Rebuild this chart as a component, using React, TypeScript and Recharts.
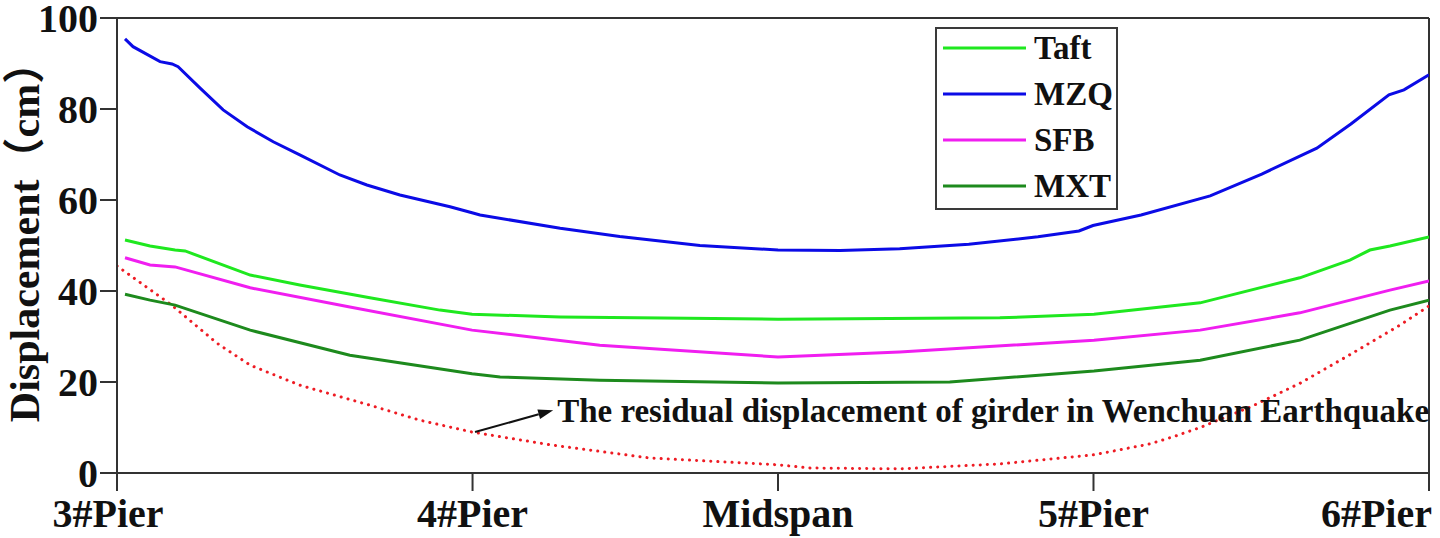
import React from 'react';
import { LineChart, Line, XAxis, YAxis, Legend, ReferenceLine } from 'recharts';

const FONT = '"Liberation Serif", "Times New Roman", "Noto Sans CJK SC", serif';
const CJK = '"Noto Sans CJK SC", sans-serif';

const tickPositions = [0, 71, 132, 195, 262];
const tickLabels = ['3#Pier', '4#Pier', 'Midspan', '5#Pier', '6#Pier'];
const yTicks = [0, 20, 40, 60, 80, 100];

const taft: [number, number][] = [
  [1.6, 51.2], [6.6, 49.9], [11.6, 49.0], [13.6, 48.8], [26.6, 43.5], [36.5, 41.3],
  [50.5, 38.5], [64.5, 35.8], [70.9, 34.9], [88.5, 34.3], [132, 33.8], [176.3, 34.1],
  [195.1, 34.9], [216.3, 37.4], [236.2, 42.9], [246.2, 46.8], [250.2, 49.0], [254.2, 49.9], [262, 51.9],
];
const mzq: [number, number][] = [
  [1.6, 95.4], [3.2, 93.7], [8.6, 90.4], [11.0, 89.9], [12.2, 89.3], [16.6, 84.6], [21.2, 79.8],
  [26.0, 76.1], [31.2, 72.8], [36.5, 69.9], [44.5, 65.5], [49.9, 63.3], [56.5, 61.1], [66.5, 58.5],
  [70.9, 57.2], [72.5, 56.7], [88.5, 53.8], [100.4, 52.0], [116.4, 50.0], [132, 49.0], [144.4, 48.9],
  [156.3, 49.3], [170.1, 50.3], [183.9, 51.9], [192.1, 53.2], [194.9, 54.4], [204.5, 56.7],
  [218.3, 60.9], [228.6, 65.7], [239.6, 71.4], [246.4, 76.7], [254.0, 83.1], [257.0, 84.2], [262, 87.5],
];
const sfb: [number, number][] = [
  [1.6, 47.3], [6.6, 45.7], [11.6, 45.3], [26.6, 40.7], [46.5, 36.5], [70.9, 31.4], [96.4, 28.1],
  [132, 25.5], [156.3, 26.6], [195.1, 29.2], [216.3, 31.4], [236.2, 35.2], [254.2, 40.2], [262, 42.2],
];
const mxt: [number, number][] = [
  [1.6, 39.3], [6.6, 38.0], [11.6, 36.9], [26.6, 31.4], [46.5, 25.9], [70.9, 21.8], [76.5, 21.1],
  [96.4, 20.4], [132, 19.8], [166.3, 20.0], [195.1, 22.4], [216.3, 24.8], [236.2, 29.2], [254.2, 35.8], [262, 38.0],
];
const residual: [number, number][] = [
  [0, 45.5], [10.8, 37.0], [20, 28.5], [26.6, 23.7], [36.5, 19.3], [50.5, 14.9], [60.5, 11.6],
  [70.9, 9.0], [86.5, 6.2], [106.4, 3.3], [132, 1.8], [138.4, 1.1], [156.3, 0.9], [176.3, 2.0],
  [195.1, 4.0], [206.3, 6.4], [211.3, 8.1], [216.3, 10.0], [226.3, 14.5], [236.2, 19.7], [246.2, 26.0], [256.2, 32.5], [262, 36.7],
];

const annotationStart = { x: 71.5, y: 9.0 };
const annotationEnd = { x: 87.1, y: 13.8 };
const annotationText = 'The residual displacement of girder in Wenchuan Earthquake';

const toData = (arr: [number, number][]) => arr.map(([x, y]) => ({ x, y }));

const seriesList = [
  { name: 'Taft', color: '#1fe81f', data: taft },
  { name: 'MZQ', color: '#0b0be6', data: mzq },
  { name: 'SFB', color: '#f01ef0', data: sfb },
  { name: 'MXT', color: '#1d8a1d', data: mxt },
];

const XTick = (props: any) => {
  const { x, y, payload } = props;
  const i = tickPositions.indexOf(payload.value);
  let dx = 0;
  let anchor: 'middle' | 'end' = 'middle';
  if (i === 0) dx = -9;
  if (i === tickPositions.length - 1) { dx = 3; anchor = 'end'; }
  return (
    <text x={x + dx} y={y} dy={34} textAnchor={anchor} fontFamily={FONT} fontWeight="bold" fontSize={40} fill="#111">
      {tickLabels[i]}
    </text>
  );
};

const ArrowShape = (p: any) => {
  const { x1, y1, x2, y2 } = p;
  if ([x1, y1, x2, y2].some((v) => typeof v !== 'number')) return null;
  const ang = Math.atan2(y2 - y1, x2 - x1);
  const L = 15, W = 5;
  const bx = x2 - L * Math.cos(ang), by = y2 - L * Math.sin(ang);
  const px = -Math.sin(ang) * W, py = Math.cos(ang) * W;
  return (
    <g>
      <line x1={x1} y1={y1} x2={bx} y2={by} stroke="#111" strokeWidth={2} />
      <polygon points={`${x2},${y2} ${bx + px},${by + py} ${bx - px},${by - py}`} fill="#111" />
      <text x={x2 + 4} y={y2} dy="0.36em" fontFamily={FONT} fontWeight="bold" fontSize={33} fill="#111">
        {annotationText}
      </text>
    </g>
  );
};

const LegendBox = () => (
  <div style={{ border: '2px solid #3a3a3a', width: 183, height: 183, boxSizing: 'border-box', background: '#fff', fontFamily: FONT, fontWeight: 'bold', fontSize: 33, color: '#111' }}>
    <div style={{ position: 'relative', top: -4 }}>
      {seriesList.map((s) => (
        <div key={s.name} style={{ display: 'flex', alignItems: 'center', height: 46 }}>
          <svg width={83} height={6} style={{ marginLeft: 6, display: 'block' }}>
            <line x1={0} y1={3} x2={83} y2={3} stroke={s.color} strokeWidth={3} />
          </svg>
          <span style={{ marginLeft: 8, lineHeight: '46px' }}>{s.name}</span>
        </div>
      ))}
    </div>
  </div>
);

const YLabel = (props: any) => {
  const vb = props.viewBox || { x: 0, y: 18, width: 117, height: 455 };
  const cx = vb.x + 39;
  const cy = 232;
  return (
    <text x={cx} y={cy} transform={`rotate(-90, ${cx}, ${cy})`} textAnchor="middle" fontFamily={FONT} fontWeight="bold" fontSize={42} fill="#111">
      Displacement<tspan fontFamily={CJK}>（</tspan>cm<tspan fontFamily={CJK}>）</tspan>
    </text>
  );
};

export default function App() {
  return (
    <div style={{ position: 'absolute', left: 0, top: 0, width: 1440, height: 538, background: '#fff' }}>
      <LineChart width={1440} height={538} margin={{ top: 18, right: 11, left: 0, bottom: 0 }}>
        <XAxis
          type="number"
          dataKey="x"
          domain={[0, 262]}
          ticks={tickPositions}
          interval={0}
          height={65}
          tickSize={18}
          axisLine={{ stroke: '#333', strokeWidth: 2 }}
          tickLine={{ stroke: '#333', strokeWidth: 2 }}
          tick={<XTick />}
          allowDataOverflow
        />
        <YAxis
          type="number"
          domain={[0, 100]}
          ticks={yTicks}
          interval={0}
          width={117}
          tickSize={17}
          axisLine={{ stroke: '#333', strokeWidth: 2 }}
          tickLine={{ stroke: '#333', strokeWidth: 2 }}
          tick={{ fontFamily: FONT, fontWeight: 'bold', fontSize: 40, fill: '#111' }}
          label={{ content: <YLabel /> }}
        />
        <ReferenceLine y={100} stroke="#333" strokeWidth={2} />
        <ReferenceLine x={262} stroke="#333" strokeWidth={2} />
        <Line data={toData(residual)} dataKey="y" type="linear" stroke="#ee1c24" strokeWidth={3} strokeDasharray="0.1 7" strokeLinecap="round" dot={false} isAnimationActive={false} legendType="none" />
        {seriesList.map((s) => (
          <Line key={s.name} name={s.name} data={toData(s.data)} dataKey="y" type="linear" stroke={s.color} strokeWidth={3} dot={false} isAnimationActive={false} />
        ))}
        <ReferenceLine segment={[annotationStart, annotationEnd]} shape={ArrowShape} ifOverflow="visible" />
        <Legend layout="vertical" align="center" verticalAlign="middle" content={<LegendBox />} wrapperStyle={{ left: 935, top: 27, width: 183, height: 183 }} />
      </LineChart>
    </div>
  );
}
